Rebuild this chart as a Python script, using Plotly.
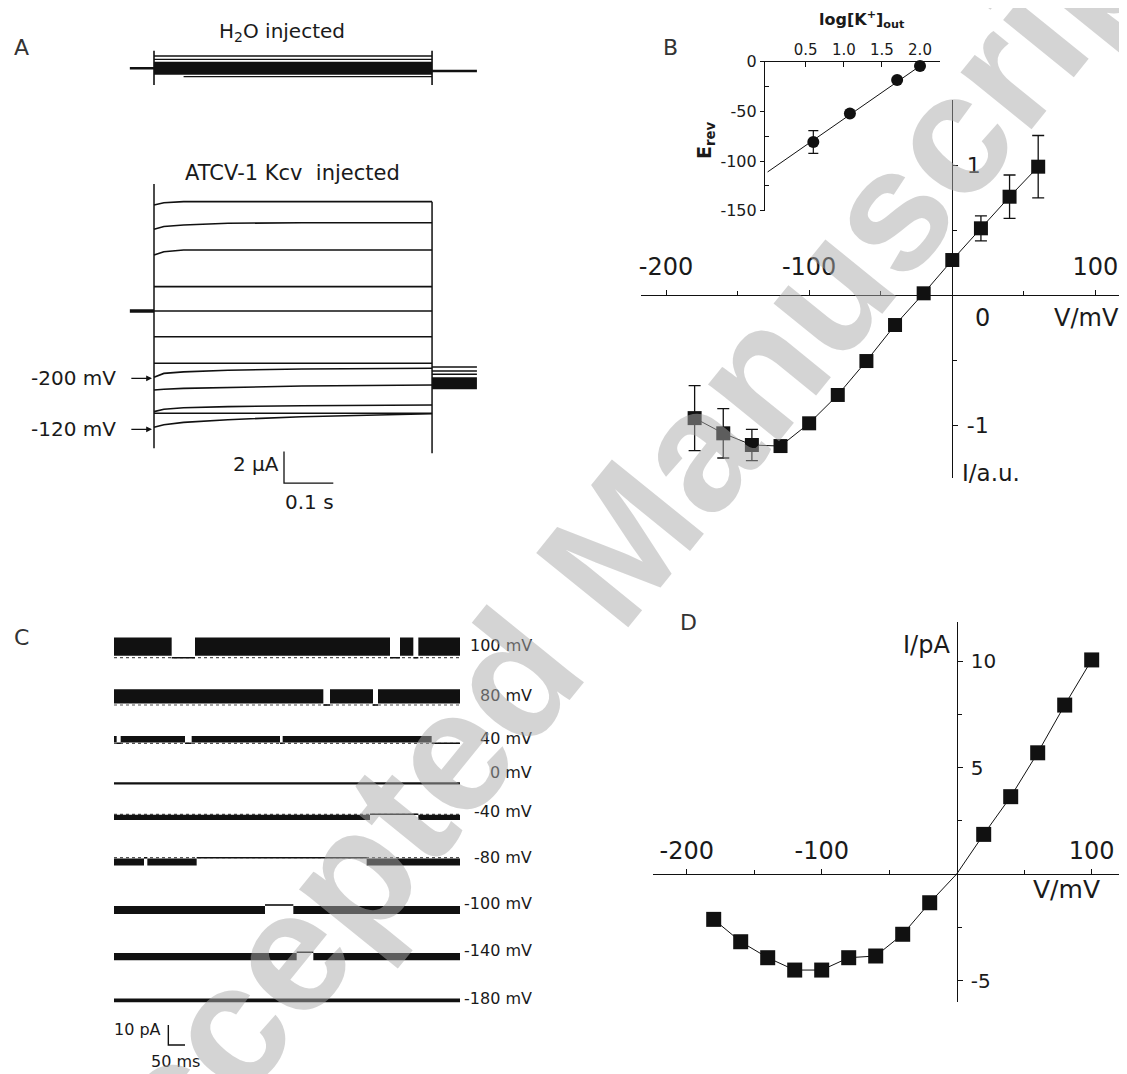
import plotly.graph_objects as go

# Screen size of the page and the 8 px default body margin of the browser page
SCREEN_W, SCREEN_H = 1127, 1074
OFF = 8
W, H = SCREEN_W - OFF, SCREEN_H - OFF

FONT = "DejaVu Sans, Verdana, sans-serif"
WM_FONT = "Liberation Sans, Arial, sans-serif"
INK = "#111111"
TXT = "#1a1a1a"

# ======================= DATA =======================
# --- Panel A: voltage-clamp current traces (time in s, current in uA) ---
A_t = [0.0, 0.02, 0.06, 0.15, 0.30, 0.564]
A_I = [
    [6.71, 6.85, 6.92, 6.92, 6.92, 6.92],
    [5.17, 5.35, 5.44, 5.55, 5.59, 5.59],
    [3.54, 3.75, 3.86, 3.86, 3.86, 3.86],
    [1.54, 1.54, 1.54, 1.54, 1.54, 1.54],
    [0.0, 0.0, 0.0, 0.0, 0.0, 0.0],
    [-1.63, -1.63, -1.63, -1.63, -1.63, -1.63],
    [-3.31, -3.31, -3.31, -3.31, -3.31, -3.31],
    [-4.20, -3.95, -3.85, -3.75, -3.67, -3.62],
    [-5.00, -4.95, -4.90, -4.85, -4.75, -4.68],
    [-6.37, -6.22, -6.12, -6.05, -6.00, -5.95],
    [-6.47, -6.47, -6.47, -6.47, -6.47, -6.47],
    [-7.36, -7.20, -7.05, -6.88, -6.69, -6.50],
]
A_pre_t = [-0.049, 0.0]
A_hold_I = 0.0
A_tail_t = [0.564, 0.655]
A_tail_I = [-3.55, -3.80, -4.00]
A_tail_band_I = -4.58
A_cap_on_I = [8.04, -8.69]
A_cap_off_I = [6.92, -9.00]
A_arrow_I = [-4.26, -7.49]
A_arrow_labels = ["-200 mV", "-120 mV"]

H2O_pre_I = 0.11
H2O_post_I = -0.063
H2O_band_I = 0.11
H2O_lines_I = [0.886, 0.677]
H2O_low_I = -0.42
H2O_cap_I = [1.22, -0.95]

A_scale_I = 2.0      # uA
A_scale_t = 0.1      # s

# --- Panel B: I/V of ATCV-1 Kcv (normalised) ---
B_V = [-180, -160, -140, -120, -100, -80, -60, -40, -20, 0, 20, 40, 60]
B_I = [-0.947, -1.064, -1.154, -1.162, -0.987, -0.769, -0.508, -0.231,
       0.013, 0.269, 0.513, 0.756, 0.987]
B_err = [0.25, 0.19, 0.12, 0, 0, 0, 0, 0, 0, 0, 0.096, 0.167, 0.24]

# inset: reversal potential vs log[K+]out
Bi_log = [0.6, 1.08, 1.7, 2.0]
Bi_E = [-80.8, -52.1, -18.5, -4.3]
Bi_err = [11.4, 0, 0, 0]
Bi_fit_log = [0.0, 2.0]
Bi_fit_E = [-111.0, -4.3]

# --- Panel C: single-channel recordings (time in ms, current in pA) ---
C_labels = ["100 mV", "80 mV", "40 mV", "0 mV", "-40 mV", "-80 mV",
            "-100 mV", "-140 mV", "-180 mV"]
C_open = [10.05, 7.93, 3.63, 0.0, -2.83, -3.93, -4.51, -3.93, -2.13]
C_closures = [
    [(173, 243), (828, 858), (898, 913)],
    [(628, 648), (777, 792)],
    [(8, 20), (213, 233), (498, 506), (953, 1038)],
    [],
    [(768, 913)],
    [(90, 100), (248, 758)],
    [(453, 538)],
    [(548, 598)],
    [],
]
C_T = 1038
C_scale_pA = 10
C_scale_ms = 50

# --- Panel D: single-channel I/V ---
D_V = [-180, -160, -140, -120, -100, -80, -60, -40, -20, 20, 40, 60, 80, 100]
D_I = [-2.13, -3.18, -3.93, -4.51, -4.51, -3.93, -3.85, -2.83, -1.35,
       1.86, 3.63, 5.69, 7.93, 10.05]
D_origin = (0.0, 0.0)   # 0 mV: no current (line passes through origin)

# ======================= LAYOUT HELPERS (screen px -> paper) =======================
def xdom(l, r):
    return [max(0.0, (l - OFF) / W), min(1.0, (r - OFF) / W)]

def ydom(t, b):
    return [max(0.0, 1 - (b - OFF) / H), min(1.0, 1 - (t - OFF) / H)]

def pp(x, y):
    return (x - OFF) / W, 1 - (y - OFF) / H

def xr(l, r, px0, ppu):
    l, r = max(l, OFF), min(r, OFF + W)
    return [(l - px0) / ppu, (r - px0) / ppu]

def yr(t, b, px0, ppu):
    t, b = max(t, OFF), min(b, OFF + H)
    return [(px0 - b) / ppu, (px0 - t) / ppu]

def cross(dom, rng, v=0.0):
    return dom[0] + (v - rng[0]) / (rng[1] - rng[0]) * (dom[1] - dom[0])

def hid(**kw):
    d = dict(visible=False, showgrid=False, zeroline=False, fixedrange=True,
             automargin=False)
    d.update(kw)
    return d

fig = go.Figure()
ann = []

def text(x, y, s, size=16, xa="center", ya="middle", ref=("paper", "paper"),
         color=TXT, angle=0, family=FONT, weight=None):
    f = dict(family=family, size=size, color=color)
    if weight:
        f["weight"] = weight
    ann.append(dict(x=x, y=y, xref=ref[0], yref=ref[1], text=s, showarrow=False,
                    xanchor=xa, yanchor=ya, textangle=angle, font=f))

def line(x, y, xa, ya, w=1.5, color=INK, dash=None):
    fig.add_trace(go.Scatter(x=x, y=y, xaxis=xa, yaxis=ya, mode="lines",
                             line=dict(color=color, width=w, dash=dash),
                             hoverinfo="skip"))

# ======================= PANEL A =======================
A_x0, A_pps = 154, 493.0        # px of t=0, px per second
A_ppu = 15.8                    # px per uA
A_xd, A_xr = xdom(40, 490), xr(40, 490, A_x0, A_pps)
A_yd, A_yr = ydom(180, 510), yr(180, 510, 311, A_ppu)
A2_yd, A2_yr = ydom(40, 95), yr(40, 95, 70, A_ppu)

t_end = A_t[-1]
line(A_pre_t, [A_hold_I] * 2, "x", "y", w=3.5)
for row in A_I:
    line(A_t, row, "x", "y", w=1.6)
line([0, 0], A_cap_on_I, "x", "y", w=1.5)
line([t_end, t_end], A_cap_off_I, "x", "y", w=1.5)
line(A_tail_t, [A_tail_band_I] * 2, "x", "y", w=12)
for lv in A_tail_I:
    line(A_tail_t, [lv, lv], "x", "y", w=1.5)
for lv in A_arrow_I:
    ann.append(dict(x=-0.004, y=lv, ax=A_pre_t[0], ay=lv, xref="x", yref="y",
                    axref="x", ayref="y", text="", showarrow=True, arrowhead=2,
                    arrowsize=0.9, arrowwidth=1.3, arrowcolor=INK))
for lv, lab in zip(A_arrow_I, A_arrow_labels):
    text(-0.163, lv, lab, size=20, ref=("x", "y"))
sc_t, sc_I = 0.2637, -10.9
line([sc_t, sc_t, sc_t + A_scale_t], [sc_I + A_scale_I, sc_I, sc_I], "x", "y", w=1.3)
text(*pp(281, 464), "2 \u03bcA", size=20, xa="right")
text(*pp(309, 502), "0.1 s", size=20)

line(A_pre_t, [H2O_pre_I] * 2, "x", "y2", w=2.5)
line([0, t_end], [H2O_band_I] * 2, "x", "y2", w=13)
for lv in H2O_lines_I:
    line([0, t_end], [lv, lv], "x", "y2", w=1.3)
line([0.06, t_end], [H2O_low_I] * 2, "x", "y2", w=1.3)
line([0, 0], H2O_cap_I, "x", "y2", w=1.6)
line([t_end, t_end], H2O_cap_I, "x", "y2", w=1.6)
line([t_end, A_tail_t[1]], [H2O_post_I] * 2, "x", "y2", w=2.5)

text(*pp(282, 32), "H<sub>2</sub>O injected", size=20)
text(*pp(292, 173), "ATCV-1 Kcv\u00a0 injected", size=21)
text(*pp(21, 48), "A", size=22, color="#333")

# ======================= PANEL B =======================
B_px0, B_ppx = 952.3, 1.4315
B_py0, B_ppy = 295, 130.0
B_xd, B_xr = xdom(641, 1122), xr(641, 1122, B_px0, B_ppx)
B_yd, B_yr = ydom(100, 478), yr(100, 478, B_py0, B_ppy)

fig.add_trace(go.Scatter(
    x=B_V, y=B_I, xaxis="x2", yaxis="y3", mode="lines+markers",
    line=dict(color=INK, width=1),
    marker=dict(symbol="square", size=14, color=INK, opacity=1),
    error_y=dict(type="data", array=B_err, visible=True, color=INK,
                 thickness=1.3, width=6),
    cliponaxis=False, hoverinfo="skip"))
text(21.4, -0.177, "0", size=24, ref=("x2", "y3"))
text(94, -0.177, "V/mV", size=24, ref=("x2", "y3"))
text(27, -1.37, "I/a.u.", size=23, ref=("x2", "y3"))
text(*pp(670, 47), "B", size=22, color="#333")

Bi_px0, Bi_ppx = 767.6, 76.2
Bi_xd, Bi_xr = xdom(765, 940), xr(765, 940, Bi_px0, Bi_ppx)
Bi_yd = ydom(61.7, 210.7)
Bi_yr = [-150, 0]
line(Bi_fit_log, Bi_fit_E, "x3", "y4", w=1)
fig.add_trace(go.Scatter(
    x=Bi_log, y=Bi_E, xaxis="x3", yaxis="y4", mode="markers",
    marker=dict(symbol="circle", size=12, color=INK, opacity=1),
    error_y=dict(type="data", array=Bi_err, visible=True, color=INK,
                 thickness=1.2, width=5),
    cliponaxis=False, hoverinfo="skip"))
text(*pp(862, 20), "<b>log[K<sup>+</sup>]<sub>out</sub></b>", size=16)
text(*pp(706, 140), "<b>E<sub>rev</sub></b>", size=19, angle=-90)

# ======================= PANEL C =======================
C_xd = xdom(114, 460)
C_xr = [0, C_T]
C_rows_px = [657.7, 705, 743.3, 783.3, 814.3, 857.7, 905, 952.3, 998]
C_label_px = [645, 695, 738, 772, 811, 857, 903, 950, 998]
C_dotted = [0, 1, 2, 4, 5]
C_half = 24                     # px half height of each row axis
C_ppp = 2.0                     # px per pA
C_yr = [-C_half / C_ppp, C_half / C_ppp]

for i, (I_o, clos) in enumerate(zip(C_open, C_closures)):
    ya = f"y{5 + i}"
    opens, t = [], 0
    for a, b in clos:
        if a > t:
            opens.append((t, a))
        t = b
    if t < C_T:
        opens.append((t, C_T))
    if i in C_dotted:
        line([0, C_T], [0, 0], "x4", ya, w=1.2, color="#555", dash="dot")
    xs, ys = [], []
    for a, b in clos:
        xs += [a, b, None]
        ys += [0, 0, None]
    if xs:
        line(xs, ys, "x4", ya, w=1.6)
    xs, ys = [], []
    for a, b in opens:
        xs += [a, b, None]
        ys += [I_o * 0.55, I_o * 0.55, None]
    line(xs, ys, "x4", ya, w=max(abs(I_o) * 0.9 * C_ppp, 2.2))
    text(*pp(534, C_label_px[i]), C_labels[i], size=16, xa="right")

C_sb_yd = ydom(1015, 1055)
C_sb_yr = [-20 / C_ppp, 20 / C_ppp]
cs_t, cs_I = 163, -5
line([cs_t, cs_t, cs_t + C_scale_ms], [cs_I + C_scale_pA, cs_I, cs_I], "x4", "y14", w=1.4)
text(*pp(163, 1030), "10 pA", size=16, xa="right")
text(*pp(175, 1061), "50 ms", size=16)
text(*pp(21, 637), "C", size=22, color="#333")

# ======================= PANEL D =======================
D_px0, D_ppx = 956.7, 1.35
D_py0, D_ppy = 874, 21.3
D_xd, D_xr = xdom(653, 1123), xr(653, 1123, D_px0, D_ppx)
D_yd, D_yr = ydom(621.7, 1001.7), yr(621.7, 1001.7, D_py0, D_ppy)
D_line = sorted(list(zip(D_V, D_I)) + [D_origin])
line([p[0] for p in D_line], [p[1] for p in D_line], "x5", "y15", w=1)
fig.add_trace(go.Scatter(
    x=D_V, y=D_I, xaxis="x5", yaxis="y15", mode="markers",
    marker=dict(symbol="square", size=15, color=INK, opacity=1),
    cliponaxis=False, hoverinfo="skip"))
text(-22.2, 10.75, "I/pA", size=24, ref=("x5", "y15"))
text(81.5, -0.75, "V/mV", size=25, ref=("x5", "y15"))
text(*pp(688, 622), "D", size=22, color="#333")

# ======================= WATERMARK =======================
text(*pp(604, 562), "Accepted Manuscript", size=172, color="rgba(170,170,170,0.5)",
     angle=-51, family=WM_FONT, weight="bold")

# ======================= AXES =======================
def cross_axis(dom_other, rng_other, size=24, **kw):
    d = dict(anchor="free", position=cross(dom_other, rng_other), showline=True,
             linecolor=INK, linewidth=1.3, showgrid=False, zeroline=False,
             ticks="outside", ticklen=5, tickwidth=1.2, tickcolor=INK,
             tickfont=dict(family=FONT, size=size, color=TXT), tickmode="array",
             fixedrange=True, automargin=False)
    d.update(kw)
    return d

def minor(vals):
    return dict(tickmode="array", tickvals=vals, ticks="outside", ticklen=4,
                tickcolor=INK)

layout_axes = dict(
    xaxis=hid(domain=A_xd, range=A_xr, anchor="y"),
    yaxis=hid(domain=A_yd, range=A_yr, anchor="x"),
    yaxis2=hid(domain=A2_yd, range=A2_yr, anchor="x"),
    xaxis2=cross_axis(B_yd, B_yr, domain=B_xd, range=B_xr, side="top",
                      tickvals=[-200, -100, 100], ticktext=["-200", "-100", "100"],
                      ticklabelstandoff=5, minor=minor([-150, -50, 50])),
    yaxis3=cross_axis(B_xd, B_xr, size=22, domain=B_yd, range=B_yr, side="right",
                      tickvals=[-1, 1], ticktext=["-1", "1"], ticklabelstandoff=4,
                      minor=minor([-0.5, 0.5])),
    xaxis3=dict(domain=Bi_xd, range=Bi_xr, anchor="y4", side="top", showline=True,
                linecolor=INK, linewidth=1.2, showgrid=False, zeroline=False,
                ticks="inside", ticklen=5, tickcolor=INK, tickmode="array",
                tickvals=[0.5, 1.0, 1.5, 2.0], ticktext=["0.5", "1.0", "1.5", "2.0"],
                tickfont=dict(family=FONT, size=15, color=TXT), fixedrange=True,
                automargin=False),
    yaxis4=dict(domain=Bi_yd, range=Bi_yr, anchor="x3", side="left", showline=True,
                linecolor=INK, linewidth=1.2, showgrid=False, zeroline=False,
                ticks="outside", ticklen=4, tickcolor=INK, tickmode="array",
                tickvals=[0, -50, -100, -150], ticktext=["0", "-50", "-100", "-150"],
                tickfont=dict(family=FONT, size=16, color=TXT),
                minor=dict(tickmode="array", tickvals=[-25, -75, -125],
                           ticks="inside", ticklen=4, tickcolor=INK),
                fixedrange=True, automargin=False),
    xaxis4=hid(domain=C_xd, range=C_xr, anchor="y5"),
    yaxis14=hid(domain=C_sb_yd, range=C_sb_yr, anchor="x4"),
    xaxis5=cross_axis(D_yd, D_yr, domain=D_xd, range=D_xr, side="top",
                      tickvals=[-200, -100, 100], ticktext=["-200", "-100", "100"],
                      ticklabelstandoff=0, minor=minor([-150, -50, 50])),
    yaxis15=cross_axis(D_xd, D_xr, size=20, domain=D_yd, range=D_yr, side="right",
                       tickvals=[-5, 5, 10], ticktext=["-5", "5", "10"],
                       ticklabelstandoff=4, minor=minor([-2.5, 2.5, 7.5])),
)
for i, py in enumerate(C_rows_px):
    layout_axes[f"yaxis{5 + i}"] = hid(domain=ydom(py - C_half, py + C_half),
                                       range=C_yr, anchor="x4")

fig.update_layout(
    width=W, height=H, autosize=False,
    margin=dict(l=0, r=0, t=0, b=0, pad=0, autoexpand=False),
    paper_bgcolor="white", plot_bgcolor="rgba(0,0,0,0)",
    showlegend=False, hovermode=False,
    font=dict(family=FONT, color=TXT),
    annotations=ann,
    **layout_axes,
)

fig.write_html("out.html")
